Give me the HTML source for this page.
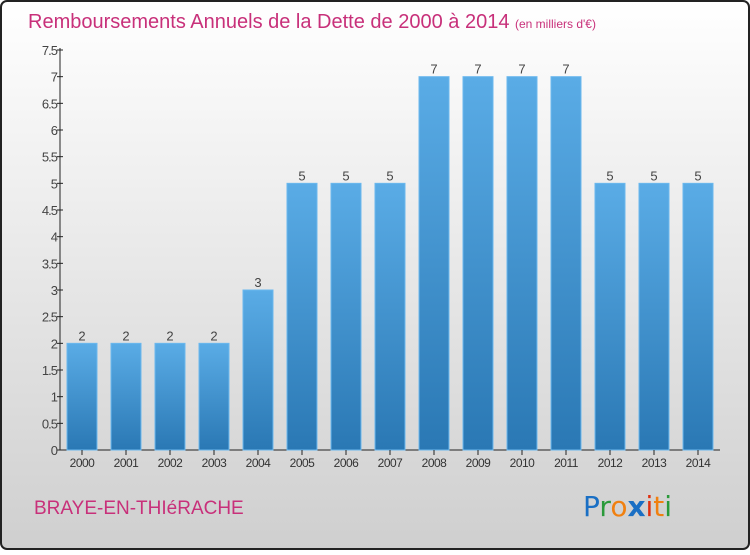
<!DOCTYPE html>
<html><head><meta charset="utf-8"><style>
body{margin:0;width:750px;height:550px;overflow:hidden;font-family:"Liberation Sans",sans-serif}
</style></head><body>
<svg width="750" height="550" xmlns="http://www.w3.org/2000/svg">
<defs>
<linearGradient id="bg" x1="0" y1="0" x2="0" y2="1"><stop offset="0" stop-color="#ffffff"/><stop offset="1" stop-color="#cfcfcf"/></linearGradient>
<linearGradient id="bar" x1="0" y1="0" x2="0" y2="1"><stop offset="0" stop-color="#5aace6"/><stop offset="1" stop-color="#2a78b4"/></linearGradient>
</defs>
<rect x="1" y="1" width="748" height="548" rx="6" fill="url(#bg)" stroke="#222" stroke-width="2"/>
<text x="28" y="28" font-size="20" fill="#c8307a">Remboursements Annuels de la Dette de 2000 à 2014 <tspan font-size="12">(en milliers d'€)</tspan></text>
<g id="yaxis"></g>
<g id="bars"></g>
<text x="34" y="514" font-size="19" fill="#c8307a">BRAYE-EN-THIéRACHE</text>
<g font-size="28" font-family="'DejaVu Sans',sans-serif">
<text x="583" y="516"><tspan fill="#1a6fc4">P</tspan><tspan fill="#2a9a3a">r</tspan><tspan fill="#f08010">o</tspan><tspan fill="#1a6fc4" font-weight="bold">x</tspan><tspan fill="#e03010">i</tspan><tspan fill="#f08010">t</tspan><tspan fill="#2a9a3a">i</tspan></text>
</g>
</svg>
<script>
const years=["2000","2001","2002","2003","2004","2005","2006","2007","2008","2009","2010","2011","2012","2013","2014"];
const values=[2,2,2,2,3,5,5,5,7,7,7,7,5,5,5];
const ticks=["0","0.5","1","1.5","2","2.5","3","3.5","4","4.5","5","5.5","6","6.5","7","7.5"];
const NS="http://www.w3.org/2000/svg";
const y0=450,yMax=7.5,plotH=400;
function y(v){return y0-v/yMax*plotH;}
function x(i){return 82+i*44;}
function mk(t,a,p){const e=document.createElementNS(NS,t);for(const k in a)e.setAttribute(k,a[k]);p.appendChild(e);return e;}
const ya=document.getElementById('yaxis');
mk('line',{x1:60,y1:48,x2:60,y2:450,stroke:'#222','stroke-width':1},ya);
mk('line',{x1:60,y1:450,x2:720,y2:450,stroke:'#222','stroke-width':1},ya);
ticks.forEach(t=>{const v=parseFloat(t);
 mk('line',{x1:57,y1:y(v),x2:63,y2:y(v),stroke:'#222'},ya);
 const tx=mk('text',{x:57,y:y(v)+5,'text-anchor':'end','font-size':13,fill:'#444','letter-spacing':'-1'},ya);tx.textContent=t;
 
 
});
const bg=document.getElementById('bars');
values.forEach((v,i)=>{
 const r=mk('rect',{x:x(i)-15,y:y(v),width:30,height:y0-y(v),fill:'url(#bar)',stroke:'#6bb8ee','stroke-width':1},bg);
 
 
 const l=mk('text',{x:x(i),y:y(v)-3,'text-anchor':'middle','font-size':13,fill:'#444'},bg);l.textContent=v;
 
 
 mk('line',{x1:x(i),y1:450,x2:x(i),y2:455,stroke:'#222'},bg);
 const xl=mk('text',{x:x(i),y:467,'text-anchor':'middle','font-size':12,fill:'#333','letter-spacing':'-0.5'},bg);xl.textContent=years[i];
 
 
});
</script>
</body></html>
